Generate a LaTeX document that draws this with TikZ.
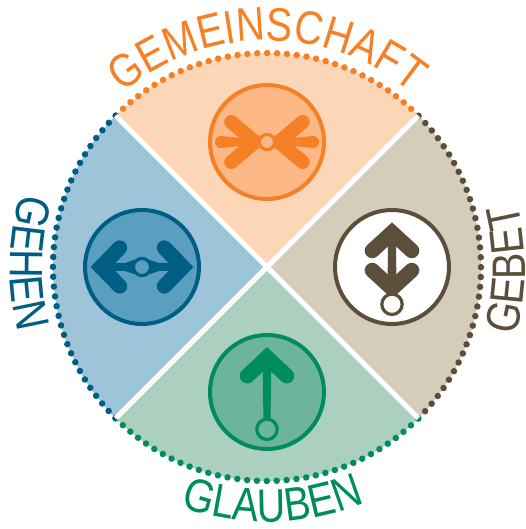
\documentclass[tikz,border=0pt]{standalone}
\usepackage{fontspec}
\setmainfont[FakeStretch=0.84]{Liberation Sans}
\usepackage{tikz}
\usetikzlibrary{decorations.text}
\definecolor{gemeinline}{HTML}{F58025}
\definecolor{gemeinfill}{HTML}{FDD5B7}
\definecolor{gemeinicon}{HTML}{FDB886}
\definecolor{gebetline}{HTML}{5B4E3B}
\definecolor{gebetfill}{HTML}{D6CCBA}
\definecolor{glaubenline}{HTML}{008C5E}
\definecolor{glaubenfill}{HTML}{ABD0BF}
\definecolor{glaubenicon}{HTML}{6CB59A}
\definecolor{gehenline}{HTML}{005D84}
\definecolor{gehenfill}{HTML}{9EC4D9}
\definecolor{gehenicon}{HTML}{5B9FC0}
\newcommand{\labelfont}{\fontsize{47}{47}\selectfont}
\tikzset{
  ringdots/.style={line width=6.5pt,line cap=round,dash pattern=on 0pt off 9.88pt},
  iconring/.style={line width=4pt},
  hubring/.style={line width=3.2pt},
  prong/.style={line width=15pt,line cap=round,line join=miter},
  labelarc/.style={decorate,decoration={text along path,text align=center,text={#1}}}
}

\begin{document}
\begin{tikzpicture}[x=1pt,y=1pt]
    \useasboundingbox (-267,-262) rectangle (258,267);
    % sectors and dotted rim
    \foreach \ang/\fillcol/\linecol in {45/gemeinfill/gemeinline,-45/gebetfill/gebetline,-135/glaubenfill/glaubenline,135/gehenfill/gehenline} {
      \fill [\fillcol] (0,0) -- (\ang:214) arc (\ang:\ang+90:214) -- cycle;
      \draw [ringdots,\linecol] (\ang:214) arc (\ang:\ang+90:214);
    }
    \draw [white,line width=5pt] (135:214) -- (-45:214);
    \draw [white,line width=5pt] (45:214) -- (-135:214);
    % labels
    \path [labelarc={|\labelfont\color{gemeinline}|GEMEINSCHAFT}] (150:226.5) arc (150:30:226.5);
    \path [labelarc={|\labelfont\color{gebetline}|GEBET}] (-25.5:258) arc (-25.5:24.5:258);
    \path [labelarc={|\labelfont\color{glaubenline}|GLAUBEN}] (-113.6:255) arc (-113.6:-63.6:255);
    \path [labelarc={|\labelfont\color{gehenline}|GEHEN}] (154:257) arc (154:204:257);
    % top icon
    \begin{scope}[shift={(0,125)}]
      \draw [iconring,gemeinline,fill=gemeinicon] (0,0) circle (57);
      \draw [prong,line width=14pt,gemeinline] (-35.7,20) -- (-12,0);
      \draw [prong,line width=14pt,gemeinline] (-35.7,-20) -- (-12,0);
      \draw [prong,line width=14pt,gemeinline] (35.7,20) -- (12,0);
      \draw [prong,line width=14pt,gemeinline] (35.7,-20) -- (12,0);
      \fill [gemeinline] (-46,6) arc (90:270:6) -- (-26,-4) -- (-8,-7) -- (-8,7) -- (-26,4) -- cycle;
      \fill [gemeinline] (46,6) arc (90:-90:6) -- (26,-4) -- (8,-7) -- (8,7) -- (26,4) -- cycle;
      \draw [hubring,gemeinline,fill=gemeinicon] (0,0) circle (7.6);
    \end{scope}
    % right icon
    \begin{scope}[shift={(125,0)}]
      \draw [iconring,gebetline,fill=white] (0,0) circle (57);
      \fill [gebetline] (-4.5,-25) -- (-3.5,-30) -- (3.5,-30) -- (4.5,-25) -- (4,25) -- (-4,25) -- cycle;
      \draw [prong,gebetline] (-19.8,16.3) -- (0,34.4) -- (19.8,16.3);
      \draw [prong,gebetline] (-19.8,-3.3) -- (0,-21.5) -- (19.8,-3.3);
      \draw [hubring,gebetline,fill=white] (0,-37.3) circle (10.2);
    \end{scope}
    % bottom icon
    \begin{scope}[shift={(0,-125)}]
      \draw [iconring,glaubenline,fill=glaubenicon] (0,0) circle (57);
      \draw [prong,glaubenline] (-19.8,16) -- (0,34.6) -- (19.8,16);
      \fill [glaubenline] (-4.5,36) -- (4.5,36) -- (3.5,-30) -- (-3.5,-30) -- cycle;
      \draw [hubring,glaubenline,fill=glaubenicon] (0,-37.3) circle (10.2);
    \end{scope}
    % left icon
    \begin{scope}[shift={(-125,0)}]
      \draw [iconring,gehenline,fill=gehenicon] (0,0) circle (57);
      \draw [prong,gehenline] (-22.3,19.2) -- (-41,0) -- (-22.3,-19.2);
      \draw [prong,gehenline] (22.3,19.2) -- (41,0) -- (22.3,-19.2);
      \fill [gehenline] (-36,4) -- (-17,4) -- (-8,7) -- (8,7) -- (17,4) -- (36,4) -- (36,-4) -- (17,-4) -- (8,-7) -- (-8,-7) -- (-17,-4) -- (-36,-4) -- cycle;
      \draw [hubring,gehenline,fill=gehenicon] (0,0) circle (8.6);
    \end{scope}
  \end{tikzpicture}
\end{document}
